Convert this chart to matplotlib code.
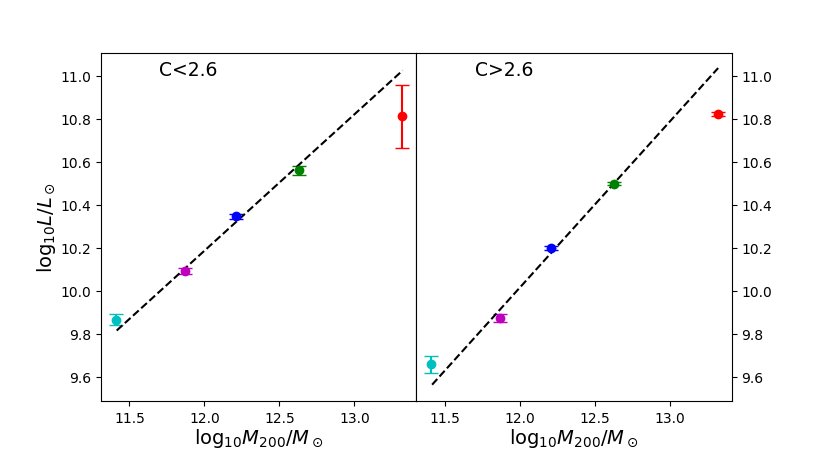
import matplotlib
matplotlib.use("Agg")
import matplotlib.pyplot as plt

colors = ['c', 'm', 'b', 'g', 'r']
mass = [11.41, 11.87, 12.21, 12.63, 13.32]

lum_low = [9.865, 10.092, 10.346, 10.560, 10.811]
err_low = [0.026, 0.012, 0.012, 0.020, 0.147]
lum_high = [9.657, 9.874, 10.199, 10.498, 10.822]
err_high = [0.041, 0.017, 0.010, 0.008, 0.010]

fit_x = [11.415, 13.322]
fit_low = [9.815, 11.025]
fit_high = [9.563, 11.036]

titles = ['C<2.6', 'C>2.6']

fig = plt.figure(figsize=(8.14, 4.52), dpi=100)
ax1 = fig.add_subplot(1, 2, 1)
ax2 = fig.add_subplot(1, 2, 2, sharey=ax1)
fig.subplots_adjust(left=0.124, right=0.899, bottom=0.111, top=0.881, wspace=0)

for ax, lum, err, fit, title in [(ax1, lum_low, err_low, fit_low, titles[0]),
                                 (ax2, lum_high, err_high, fit_high, titles[1])]:
    for x, y, e, c in zip(mass, lum, err, colors):
        ax.errorbar([x], [y], yerr=[e], fmt='o', color=c, capsize=5, markersize=6)
    ax.plot(fit_x, fit, 'k--', lw=1.5)
    ax.set_xlim(11.31, 13.413)
    ax.set_xticks([11.5, 12.0, 12.5, 13.0])
    ax.set_xlabel(r'$\mathrm{log}_{10}M_{200}/M_\odot$', fontsize=14, labelpad=1)
    ax.text(0.185, 0.951, title, transform=ax.transAxes, fontsize=13.5,
            va='center', ha='left')

ax1.set_ylim(9.488, 11.107)
ax1.set_yticks([9.6, 9.8, 10.0, 10.2, 10.4, 10.6, 10.8, 11.0])
ax1.set_ylabel(r'$\mathrm{log}_{10}L/L_\odot$', fontsize=14, labelpad=2)
ax2.yaxis.tick_right()
ax2.tick_params(axis='y', labelright=True, labelleft=False)

fig.savefig('out.png', dpi=100)
